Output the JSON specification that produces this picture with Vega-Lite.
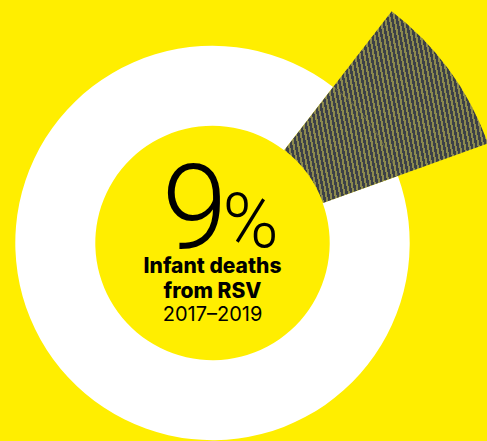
{
  "$schema": "https://vega.github.io/schema/vega-lite/v6.json",
  "width": 487,
  "height": 441,
  "autosize": {"type": "fit", "contains": "padding"},
  "padding": {"left": 0, "top": 45, "right": 62, "bottom": 0},
  "background": "#FFEE00",
  "config": {"view": {"stroke": null}},
  "datasets": {
    "share": [
      {"category": "Infant deaths from RSV", "percent": 9},
      {"category": "Other causes", "percent": 91}
    ]
  },
  "layer": [
    {
      "data": {"name": "share"},
      "mark": {"type": "arc", "outerRadius": 197.2, "innerRadius": 117.2, "fill": "#FFFFFF"},
      "encoding": {
        "theta": {"field": "percent", "type": "quantitative", "stack": true, "scale": {"range": [0.658, 6.941]}},
        "detail": {"field": "category"},
        "order": {"field": "category", "sort": "ascending"},
        "opacity": {"condition": {"test": "datum.category === 'Other causes'", "value": 1}, "value": 0}
      }
    },
    {
      "data": {"name": "share"},
      "mark": {
        "type": "arc",
        "outerRadius": 293,
        "innerRadius": 117.6,
        "fill": {
          "gradient": "linear",
          "x1": -0.05, "y1": 0.9, "x2": 1.05, "y2": 0.704,
          "stops": [
            {"offset": 0.011, "color": "#3C4047"}, {"offset": 0.011, "color": "#8C8A4E"}, {"offset": 0.02, "color": "#8C8A4E"}, {"offset": 0.02, "color": "#3C4047"},
            {"offset": 0.031, "color": "#3C4047"}, {"offset": 0.031, "color": "#8C8A4E"}, {"offset": 0.04, "color": "#8C8A4E"}, {"offset": 0.04, "color": "#3C4047"},
            {"offset": 0.051, "color": "#3C4047"}, {"offset": 0.051, "color": "#8C8A4E"}, {"offset": 0.06, "color": "#8C8A4E"}, {"offset": 0.06, "color": "#3C4047"},
            {"offset": 0.071, "color": "#3C4047"}, {"offset": 0.071, "color": "#8C8A4E"}, {"offset": 0.08, "color": "#8C8A4E"}, {"offset": 0.08, "color": "#3C4047"},
            {"offset": 0.091, "color": "#3C4047"}, {"offset": 0.091, "color": "#8C8A4E"}, {"offset": 0.1, "color": "#8C8A4E"}, {"offset": 0.1, "color": "#3C4047"},
            {"offset": 0.111, "color": "#3C4047"}, {"offset": 0.111, "color": "#8C8A4E"}, {"offset": 0.12, "color": "#8C8A4E"}, {"offset": 0.12, "color": "#3C4047"},
            {"offset": 0.131, "color": "#3C4047"}, {"offset": 0.131, "color": "#8C8A4E"}, {"offset": 0.14, "color": "#8C8A4E"}, {"offset": 0.14, "color": "#3C4047"},
            {"offset": 0.151, "color": "#3C4047"}, {"offset": 0.151, "color": "#8C8A4E"}, {"offset": 0.16, "color": "#8C8A4E"}, {"offset": 0.16, "color": "#3C4047"},
            {"offset": 0.171, "color": "#3C4047"}, {"offset": 0.171, "color": "#8C8A4E"}, {"offset": 0.18, "color": "#8C8A4E"}, {"offset": 0.18, "color": "#3C4047"},
            {"offset": 0.191, "color": "#3C4047"}, {"offset": 0.191, "color": "#8C8A4E"}, {"offset": 0.2, "color": "#8C8A4E"}, {"offset": 0.2, "color": "#3C4047"},
            {"offset": 0.211, "color": "#3C4047"}, {"offset": 0.211, "color": "#8C8A4E"}, {"offset": 0.22, "color": "#8C8A4E"}, {"offset": 0.22, "color": "#3C4047"},
            {"offset": 0.231, "color": "#3C4047"}, {"offset": 0.231, "color": "#8C8A4E"}, {"offset": 0.24, "color": "#8C8A4E"}, {"offset": 0.24, "color": "#3C4047"},
            {"offset": 0.251, "color": "#3C4047"}, {"offset": 0.251, "color": "#8C8A4E"}, {"offset": 0.26, "color": "#8C8A4E"}, {"offset": 0.26, "color": "#3C4047"},
            {"offset": 0.271, "color": "#3C4047"}, {"offset": 0.271, "color": "#8C8A4E"}, {"offset": 0.28, "color": "#8C8A4E"}, {"offset": 0.28, "color": "#3C4047"},
            {"offset": 0.291, "color": "#3C4047"}, {"offset": 0.291, "color": "#8C8A4E"}, {"offset": 0.3, "color": "#8C8A4E"}, {"offset": 0.3, "color": "#3C4047"},
            {"offset": 0.311, "color": "#3C4047"}, {"offset": 0.311, "color": "#8C8A4E"}, {"offset": 0.32, "color": "#8C8A4E"}, {"offset": 0.32, "color": "#3C4047"},
            {"offset": 0.331, "color": "#3C4047"}, {"offset": 0.331, "color": "#8C8A4E"}, {"offset": 0.34, "color": "#8C8A4E"}, {"offset": 0.34, "color": "#3C4047"},
            {"offset": 0.351, "color": "#3C4047"}, {"offset": 0.351, "color": "#8C8A4E"}, {"offset": 0.36, "color": "#8C8A4E"}, {"offset": 0.36, "color": "#3C4047"},
            {"offset": 0.371, "color": "#3C4047"}, {"offset": 0.371, "color": "#8C8A4E"}, {"offset": 0.38, "color": "#8C8A4E"}, {"offset": 0.38, "color": "#3C4047"},
            {"offset": 0.391, "color": "#3C4047"}, {"offset": 0.391, "color": "#8C8A4E"}, {"offset": 0.4, "color": "#8C8A4E"}, {"offset": 0.4, "color": "#3C4047"},
            {"offset": 0.411, "color": "#3C4047"}, {"offset": 0.411, "color": "#8C8A4E"}, {"offset": 0.42, "color": "#8C8A4E"}, {"offset": 0.42, "color": "#3C4047"},
            {"offset": 0.431, "color": "#3C4047"}, {"offset": 0.431, "color": "#8C8A4E"}, {"offset": 0.44, "color": "#8C8A4E"}, {"offset": 0.44, "color": "#3C4047"},
            {"offset": 0.451, "color": "#3C4047"}, {"offset": 0.451, "color": "#8C8A4E"}, {"offset": 0.46, "color": "#8C8A4E"}, {"offset": 0.46, "color": "#3C4047"},
            {"offset": 0.471, "color": "#3C4047"}, {"offset": 0.471, "color": "#8C8A4E"}, {"offset": 0.48, "color": "#8C8A4E"}, {"offset": 0.48, "color": "#3C4047"},
            {"offset": 0.491, "color": "#3C4047"}, {"offset": 0.491, "color": "#8C8A4E"}, {"offset": 0.5, "color": "#8C8A4E"}, {"offset": 0.5, "color": "#3C4047"},
            {"offset": 0.511, "color": "#3C4047"}, {"offset": 0.511, "color": "#8C8A4E"}, {"offset": 0.52, "color": "#8C8A4E"}, {"offset": 0.52, "color": "#3C4047"},
            {"offset": 0.531, "color": "#3C4047"}, {"offset": 0.531, "color": "#8C8A4E"}, {"offset": 0.54, "color": "#8C8A4E"}, {"offset": 0.54, "color": "#3C4047"},
            {"offset": 0.551, "color": "#3C4047"}, {"offset": 0.551, "color": "#8C8A4E"}, {"offset": 0.56, "color": "#8C8A4E"}, {"offset": 0.56, "color": "#3C4047"},
            {"offset": 0.571, "color": "#3C4047"}, {"offset": 0.571, "color": "#8C8A4E"}, {"offset": 0.58, "color": "#8C8A4E"}, {"offset": 0.58, "color": "#3C4047"},
            {"offset": 0.591, "color": "#3C4047"}, {"offset": 0.591, "color": "#8C8A4E"}, {"offset": 0.6, "color": "#8C8A4E"}, {"offset": 0.6, "color": "#3C4047"},
            {"offset": 0.611, "color": "#3C4047"}, {"offset": 0.611, "color": "#8C8A4E"}, {"offset": 0.62, "color": "#8C8A4E"}, {"offset": 0.62, "color": "#3C4047"},
            {"offset": 0.631, "color": "#3C4047"}, {"offset": 0.631, "color": "#8C8A4E"}, {"offset": 0.64, "color": "#8C8A4E"}, {"offset": 0.64, "color": "#3C4047"},
            {"offset": 0.651, "color": "#3C4047"}, {"offset": 0.651, "color": "#8C8A4E"}, {"offset": 0.66, "color": "#8C8A4E"}, {"offset": 0.66, "color": "#3C4047"},
            {"offset": 0.671, "color": "#3C4047"}, {"offset": 0.671, "color": "#8C8A4E"}, {"offset": 0.68, "color": "#8C8A4E"}, {"offset": 0.68, "color": "#3C4047"},
            {"offset": 0.691, "color": "#3C4047"}, {"offset": 0.691, "color": "#8C8A4E"}, {"offset": 0.7, "color": "#8C8A4E"}, {"offset": 0.7, "color": "#3C4047"},
            {"offset": 0.711, "color": "#3C4047"}, {"offset": 0.711, "color": "#8C8A4E"}, {"offset": 0.72, "color": "#8C8A4E"}, {"offset": 0.72, "color": "#3C4047"},
            {"offset": 0.731, "color": "#3C4047"}, {"offset": 0.731, "color": "#8C8A4E"}, {"offset": 0.74, "color": "#8C8A4E"}, {"offset": 0.74, "color": "#3C4047"},
            {"offset": 0.751, "color": "#3C4047"}, {"offset": 0.751, "color": "#8C8A4E"}, {"offset": 0.76, "color": "#8C8A4E"}, {"offset": 0.76, "color": "#3C4047"},
            {"offset": 0.771, "color": "#3C4047"}, {"offset": 0.771, "color": "#8C8A4E"}, {"offset": 0.78, "color": "#8C8A4E"}, {"offset": 0.78, "color": "#3C4047"},
            {"offset": 0.791, "color": "#3C4047"}, {"offset": 0.791, "color": "#8C8A4E"}, {"offset": 0.8, "color": "#8C8A4E"}, {"offset": 0.8, "color": "#3C4047"},
            {"offset": 0.811, "color": "#3C4047"}, {"offset": 0.811, "color": "#8C8A4E"}, {"offset": 0.82, "color": "#8C8A4E"}, {"offset": 0.82, "color": "#3C4047"},
            {"offset": 0.831, "color": "#3C4047"}, {"offset": 0.831, "color": "#8C8A4E"}, {"offset": 0.84, "color": "#8C8A4E"}, {"offset": 0.84, "color": "#3C4047"},
            {"offset": 0.851, "color": "#3C4047"}, {"offset": 0.851, "color": "#8C8A4E"}, {"offset": 0.86, "color": "#8C8A4E"}, {"offset": 0.86, "color": "#3C4047"},
            {"offset": 0.871, "color": "#3C4047"}, {"offset": 0.871, "color": "#8C8A4E"}, {"offset": 0.88, "color": "#8C8A4E"}, {"offset": 0.88, "color": "#3C4047"},
            {"offset": 0.891, "color": "#3C4047"}, {"offset": 0.891, "color": "#8C8A4E"}, {"offset": 0.9, "color": "#8C8A4E"}, {"offset": 0.9, "color": "#3C4047"},
            {"offset": 0.911, "color": "#3C4047"}, {"offset": 0.911, "color": "#8C8A4E"}, {"offset": 0.92, "color": "#8C8A4E"}, {"offset": 0.92, "color": "#3C4047"},
            {"offset": 0.931, "color": "#3C4047"}, {"offset": 0.931, "color": "#8C8A4E"}, {"offset": 0.94, "color": "#8C8A4E"}, {"offset": 0.94, "color": "#3C4047"},
            {"offset": 0.951, "color": "#3C4047"}, {"offset": 0.951, "color": "#8C8A4E"}, {"offset": 0.96, "color": "#8C8A4E"}, {"offset": 0.96, "color": "#3C4047"},
            {"offset": 0.971, "color": "#3C4047"}, {"offset": 0.971, "color": "#8C8A4E"}, {"offset": 0.98, "color": "#8C8A4E"}, {"offset": 0.98, "color": "#3C4047"},
            {"offset": 0.991, "color": "#3C4047"}, {"offset": 0.991, "color": "#8C8A4E"}, {"offset": 1, "color": "#8C8A4E"}
          ]
        }
      },
      "encoding": {
        "theta": {"field": "percent", "type": "quantitative", "stack": true},
        "detail": {"field": "category"},
        "order": {"field": "category", "sort": "ascending"},
        "opacity": {"condition": {"test": "datum.category === 'Infant deaths from RSV'", "value": 1}, "value": 0}
      }
    },
    {
      "data": {"name": "share"},
      "mark": {"type": "arc", "outerRadius": 197.7, "innerRadius": 196.9, "fill": "#9A9650"},
      "encoding": {
        "theta": {"field": "percent", "type": "quantitative", "stack": true},
        "detail": {"field": "category"},
        "order": {"field": "category", "sort": "ascending"},
        "opacity": {"condition": {"test": "datum.category === 'Infant deaths from RSV'", "value": 0.5}, "value": 0}
      }
    },
    {
      "data": {"values": [{"label": "9"}]},
      "mark": {"type": "text", "font": "Roboto", "fontWeight": 300, "fontSize": 118, "color": "#000000", "align": "right", "baseline": "alphabetic", "dx": 15, "dy": 4.5},
      "encoding": {"text": {"field": "label"}}
    },
    {
      "data": {"values": [{"label": "%"}]},
      "mark": {"type": "text", "font": "Roboto", "fontWeight": 300, "fontSize": 76, "color": "#000000", "align": "left", "baseline": "alphabetic", "dx": 10, "dy": 3.5},
      "encoding": {"text": {"field": "label"}}
    },
    {
      "data": {"values": [{"label": "Infant deaths"}]},
      "mark": {"type": "text", "font": "Inter", "fontWeight": 800, "fontSize": 21, "color": "#000000", "align": "center", "baseline": "alphabetic", "dy": 30},
      "encoding": {"text": {"field": "label"}}
    },
    {
      "data": {"values": [{"label": "from RSV"}]},
      "mark": {"type": "text", "font": "Inter", "fontWeight": 800, "fontSize": 21, "color": "#000000", "align": "center", "baseline": "alphabetic", "dy": 54.7},
      "encoding": {"text": {"field": "label"}}
    },
    {
      "data": {"values": [{"label": "2017–2019"}]},
      "mark": {"type": "text", "font": "Inter", "fontWeight": 400, "fontSize": 20, "color": "#000000", "align": "center", "baseline": "alphabetic", "dy": 78},
      "encoding": {"text": {"field": "label"}}
    }
  ]
}
